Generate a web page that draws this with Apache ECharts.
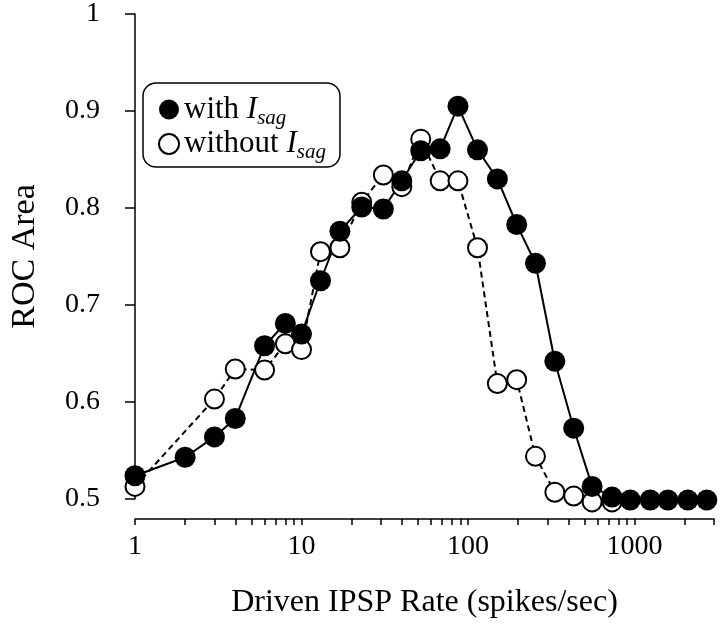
<!DOCTYPE html>
<html>
<head>
<meta charset="utf-8">
<script src="https://cdn.jsdelivr.net/npm/echarts@6/dist/echarts.min.js"></script>
<style>
html,body{margin:0;padding:0;background:#fff;}
#chart{width:720px;height:633px;}
</style>
</head>
<body>
<div id="chart"></div>
<script>
// Driven IPSP rate (spikes/sec) for each point
const withX = [1, 2, 3, 4, 6, 8, 10, 13, 17, 23, 31, 40, 52, 68, 87, 114, 150, 196, 254, 332, 431, 556, 733, 942, 1242, 1585, 2090, 2716];
const withSag = [0.524, 0.543, 0.564, 0.583, 0.658, 0.681, 0.670, 0.725, 0.776, 0.801, 0.799, 0.828, 0.859, 0.861, 0.905, 0.860, 0.830, 0.783, 0.743, 0.642, 0.573, 0.513, 0.502, 0.499, 0.499, 0.499, 0.499, 0.499];
const withoutX = [1, 3, 4, 6, 8, 10, 13, 17, 23, 31, 40, 52, 68, 87, 114, 150, 196, 254, 332, 431, 556, 733];
const withoutSag = [0.513, 0.603, 0.634, 0.633, 0.660, 0.654, 0.755, 0.759, 0.806, 0.834, 0.822, 0.871, 0.828, 0.828, 0.759, 0.619, 0.623, 0.544, 0.507, 0.503, 0.497, 0.497];
// axis ticks
const xTickValues = [1,2,3,4,5,6,7,8,9,10,20,30,40,50,60,70,80,90,100,200,300,400,500,600,700,800,900,1000,2000,3000];
const xLabelValues = [1, 10, 100, 1000];

const FONT = 'Liberation Serif';
const chart = echarts.init(document.getElementById('chart'));
const xMin = 1, xMax = 3000;

chart.setOption({
  animation: false,
  backgroundColor: '#fff',
  grid: { left: 133, right: 6, top: 13, bottom: 134, containLabel: false },
  legend: {
    orient: 'vertical',
    left: 143, top: 83,
    padding: [11, 14, 4, 15],
    itemGap: 0,
    itemWidth: 20, itemHeight: 20,
    icon: 'circle',
    selectedMode: false,
    borderColor: '#000', borderWidth: 1.5, borderRadius: 13,
    formatter: function (name) {
      return name === 'with Isag' ? '{n|with }{i|I}{s|sag}' : '{n|without }{i|I}{s|sag}';
    },
    textStyle: {
      fontFamily: FONT, fontSize: 31, color: '#000',
      rich: {
        n: { fontFamily: FONT, fontSize: 31, lineHeight: 38, color: '#000' },
        i: { fontFamily: FONT, fontSize: 31, lineHeight: 38, fontStyle: 'italic', color: '#000' },
        s: { fontFamily: FONT, fontSize: 21, lineHeight: 20, fontStyle: 'italic', verticalAlign: 'bottom', color: '#000' }
      }
    },
    data: ['with Isag', 'without Isag']
  },
  xAxis: [
    {
      type: 'log', logBase: 10, min: xMin, max: xMax,
      position: 'bottom', offset: 20,
      name: 'Driven IPSP Rate (spikes/sec)',
      nameLocation: 'middle', nameGap: 68,
      nameTextStyle: { fontFamily: FONT, fontSize: 32, color: '#000' },
      axisLine: { show: true, lineStyle: { color: '#000', width: 1.5 } },
      axisTick: { show: false },
      splitLine: { show: false },
      minorTick: { show: false },
      axisLabel: {
        fontFamily: FONT, fontSize: 28, color: '#000', margin: 14,
        showMaxLabel: false,
        formatter: function (v) {
          for (const t of xLabelValues) { if (Math.abs(v - t) / t < 1e-6) return String(t); }
          return '';
        }
      }
    },
    {
      type: 'value', min: Math.log10(xMin), max: Math.log10(xMax),
      position: 'bottom', offset: 20,
      axisLine: { show: false },
      axisLabel: { show: false },
      splitLine: { show: false },
      axisTick: {
        show: true, inside: false, length: 6,
        customValues: xTickValues.map(v => Math.log10(v)),
        lineStyle: { color: '#000', width: 1.5 }
      }
    }
  ],
  yAxis: {
    type: 'value', min: 0.5, max: 1, interval: 0.1,
    position: 'left', offset: 19,
    name: 'ROC Area', nameLocation: 'middle', nameGap: 74,
    nameTextStyle: { fontFamily: FONT, fontSize: 34, color: '#000' },
    axisLine: { show: true, lineStyle: { color: '#000', width: 1.5 } },
    axisTick: { show: true, inside: false, length: 10, lineStyle: { color: '#000', width: 1.5 } },
    splitLine: { show: false },
    axisLabel: {
      fontFamily: FONT, fontSize: 28, color: '#000', margin: 16,
      formatter: function (v) { return String(Math.round(v * 10) / 10); }
    }
  },
  series: [
    {
      name: 'without Isag', type: 'line', xAxisIndex: 0, clip: false,
      data: withoutX.map((x, i) => [x, withoutSag[i]]),
      symbol: 'circle', symbolSize: 19, showAllSymbol: true,
      itemStyle: { color: '#fff', borderColor: '#000', borderWidth: 2 },
      lineStyle: { color: '#000', width: 2, type: [6, 4] },
      emphasis: { disabled: true }, silent: true
    },
    {
      name: 'with Isag', type: 'line', xAxisIndex: 0, clip: false,
      data: withX.map((x, i) => [x, withSag[i]]),
      symbol: 'circle', symbolSize: 21, showAllSymbol: true,
      itemStyle: { color: '#000', borderColor: '#000', borderWidth: 0 },
      lineStyle: { color: '#000', width: 2 },
      emphasis: { disabled: true }, silent: true
    }
  ]
});
</script>
</body>
</html>
